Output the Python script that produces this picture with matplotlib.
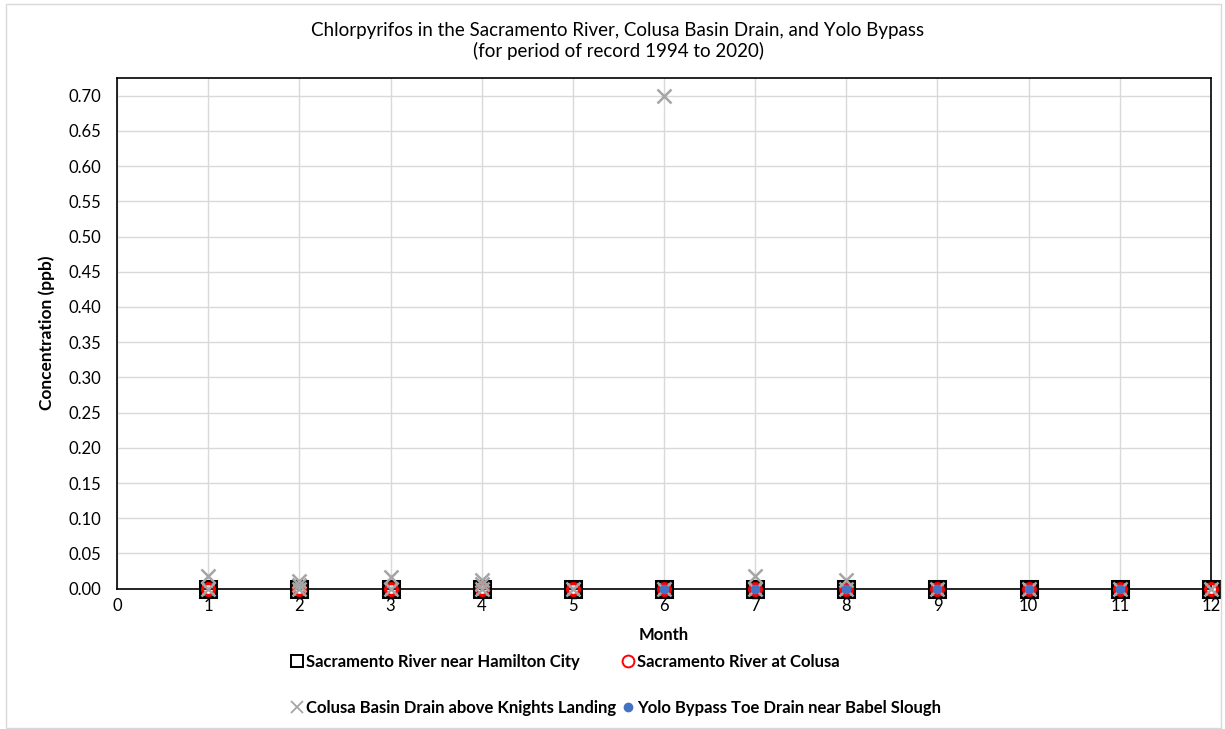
import matplotlib
matplotlib.use("Agg")
import matplotlib.pyplot as plt
from matplotlib.lines import Line2D
from matplotlib.patches import Rectangle

plt.rcParams['font.family'] = ['Lato', 'DejaVu Sans']

title = "Chlorpyrifos in the Sacramento River, Colusa Basin Drain, and Yolo Bypass\n(for period of record 1994 to 2020)"

# Sacramento River near Hamilton City
ham_month = [1, 2, 3, 4, 5, 6, 7, 8, 9, 10, 11, 12]
ham_value = [0, 0, 0, 0, 0, 0, 0, 0, 0, 0, 0, 0]

# Sacramento River at Colusa
col_month = [1, 2, 3, 4, 5, 6, 7, 8, 9, 10, 11, 12]
col_value = [0, 0, 0, 0, 0, 0, 0, 0, 0, 0, 0, 0]

# Colusa Basin Drain above Knights Landing
cbd_month = [1, 1, 2, 2, 2, 3, 3, 4, 4, 4, 5, 6, 6, 7, 7, 8, 8, 9, 10, 11, 12]
cbd_value = [0.018, 0, 0.011, 0.005, 0, 0.017, 0, 0.013, 0.007, 0, 0, 0.70, 0,
             0.018, 0, 0.012, 0, 0, 0, 0, 0]

# Yolo Bypass Toe Drain near Babel Slough
yolo_month = [6, 7, 8, 9, 10, 11]
yolo_value = [0, 0, 0, 0, 0, 0]

labels = ["Sacramento River near Hamilton City", "Sacramento River at Colusa",
          "Colusa Basin Drain above Knights Landing", "Yolo Bypass Toe Drain near Babel Slough"]

xticks = list(range(0, 13))
yticks = [i * 0.05 for i in range(15)]

fig = plt.figure(figsize=(12.25, 7.29), dpi=100)
ax = fig.add_axes([117/1225, 1 - 588.7/729, (1211-117)/1225, (588.7-77.5)/729])

gray = '#A5A5A5'
blue = '#4472C4'

ax.plot(ham_month, ham_value, ls='none', marker='s', ms=11, mfc='none', mec='black', mew=2.2, zorder=3, clip_on=False)
ax.plot(col_month, col_value, ls='none', marker='o', ms=8.5, mfc='none', mec='#FF0000', mew=2.2, zorder=4, clip_on=False)
ax.plot(cbd_month, cbd_value, ls='none', marker='x', ms=9.5, mec=gray, mew=1.8, zorder=5, clip_on=False)
ax.plot(yolo_month, yolo_value, ls='none', marker='o', ms=6, mfc=blue, mec=blue, zorder=6, clip_on=False)

ax.set_xlim(0, 12)
ax.set_ylim(0, 0.7258)
ax.set_xticks(xticks)
ax.set_yticks(yticks)
ax.set_yticklabels([f"{v:.2f}" for v in yticks])
ax.grid(True, color='#D9D9D9', lw=1)
ax.set_axisbelow(True)
for s in ax.spines.values():
    s.set_color('black')
    s.set_linewidth(1.2)
ax.tick_params(axis='both', length=0, labelsize=12, colors='black', pad=11)
ax.tick_params(axis='x', pad=7)
ax.set_xlabel("Month", fontsize=12, fontweight='bold', labelpad=9)
ax.set_ylabel("Concentration (ppb)", fontsize=12.5, fontweight='bold', labelpad=10)

fig.text(0.5045, 1 - 41/729, title, ha='center', va='center', fontsize=13.5, linespacing=1.15)

h_ham = Line2D([], [], ls='none', marker='s', ms=8.5, mfc='none', mec='black', mew=1.4)
h_col = Line2D([], [], ls='none', marker='o', ms=8.5, mfc='none', mec='#FF0000', mew=1.4)
h_cbd = Line2D([], [], ls='none', marker='x', ms=8.5, mec=gray, mew=1.3)
h_yolo = Line2D([], [], ls='none', marker='o', ms=6, mfc=blue, mec=blue)
fig.legend([h_ham, h_cbd, h_col, h_yolo], [labels[0], labels[2], labels[1], labels[3]],
           loc='center', bbox_to_anchor=(0.502, 1 - 685/729), ncol=2,
           frameon=False, prop={'weight': 'bold', 'size': 12}, handletextpad=0.05,
           columnspacing=0.2, handlelength=1.0, labelspacing=1.8)

fig.patches.append(Rectangle((6/1225, 1/729), 1 - 10/1225, 1 - 5/729, transform=fig.transFigure,
                             fill=False, ec='#D9D9D9', lw=1))

fig.savefig("out.png", dpi=100)
